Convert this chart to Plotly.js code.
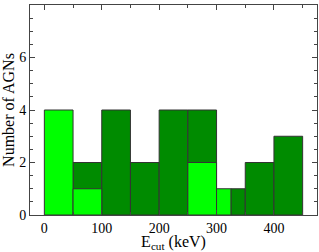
<!DOCTYPE html>
<html><head><meta charset="utf-8">
<script src="https://cdn.plot.ly/plotly-3.0.1.min.js"></script>
<style>html,body{margin:0;padding:0;background:#fff}#c{width:319px;height:252px}</style>
</head><body><div id="c"></div>
<script>
// All AGNs histogram (dark green): bin left edge, bin width, count
var allLeft = [50, 100, 150, 200, 250, 325, 350, 400];
var allWidth = [50, 50, 50, 50, 50, 25, 50, 50];
var allCount = [2, 4, 2, 4, 4, 1, 2, 3];
// Subset histogram (light green)
var subLeft = [0, 50, 250, 300];
var subWidth = [50, 50, 50, 25];
var subCount = [4, 1, 2, 1];

var line = {color: '#333', width: 1};
var traces = [
  {type: 'bar', x: allLeft, y: allCount, width: allWidth, offset: 0,
   marker: {color: '#008b00', line: line}, hoverinfo: 'none'},
  {type: 'bar', x: subLeft, y: subCount, width: subWidth, offset: 0,
   marker: {color: '#00ff00', line: line}, hoverinfo: 'none'}
];
var fam = '"Liberation Serif", "Times New Roman", Times, "DejaVu Serif", serif';
var layout = {
  width: 319, height: 252,
  margin: {l: 30, r: 2, t: 5, b: 37},
  barmode: 'overlay', showlegend: false,
  paper_bgcolor: '#fff', plot_bgcolor: '#fff',
  font: {family: fam, color: '#000', size: 14},
  xaxis: {
    range: [-25, 475], tickvals: [0, 100, 200, 300, 400], ticktext: ['0','100','200','300','400'],
    ticks: 'inside', ticklen: 5, tickcolor: '#444', mirror: 'allticks', showline: true, linecolor: '#444', linewidth: 1,
    showgrid: false, zeroline: false, tickfont: {size: 14, family: fam, color: '#000'},
    minor: {dtick: 50, tick0: 0, ticks: 'inside', ticklen: 3, tickcolor: '#444', showgrid: false},
    title: {text: 'E<sub>cut</sub> (keV)', font: {size: 16, family: fam, color: '#000'}, standoff: 3}
  },
  yaxis: {
    range: [0, 8], dtick: 2, tick0: 0,
    ticks: 'inside', ticklen: 5, tickcolor: '#444', mirror: 'allticks', showline: true, linecolor: '#444', linewidth: 1,
    showgrid: false, zeroline: false, tickfont: {size: 14, family: fam, color: '#000'},
    minor: {dtick: 0.5, ticks: 'inside', ticklen: 3, tickcolor: '#444', showgrid: false},
    title: {text: 'Number of AGNs', font: {size: 16, family: fam, color: '#000'}, standoff: 2}
  }
};
Plotly.newPlot('c', traces, layout, {displayModeBar: false, staticPlot: true});
</script></body></html>
